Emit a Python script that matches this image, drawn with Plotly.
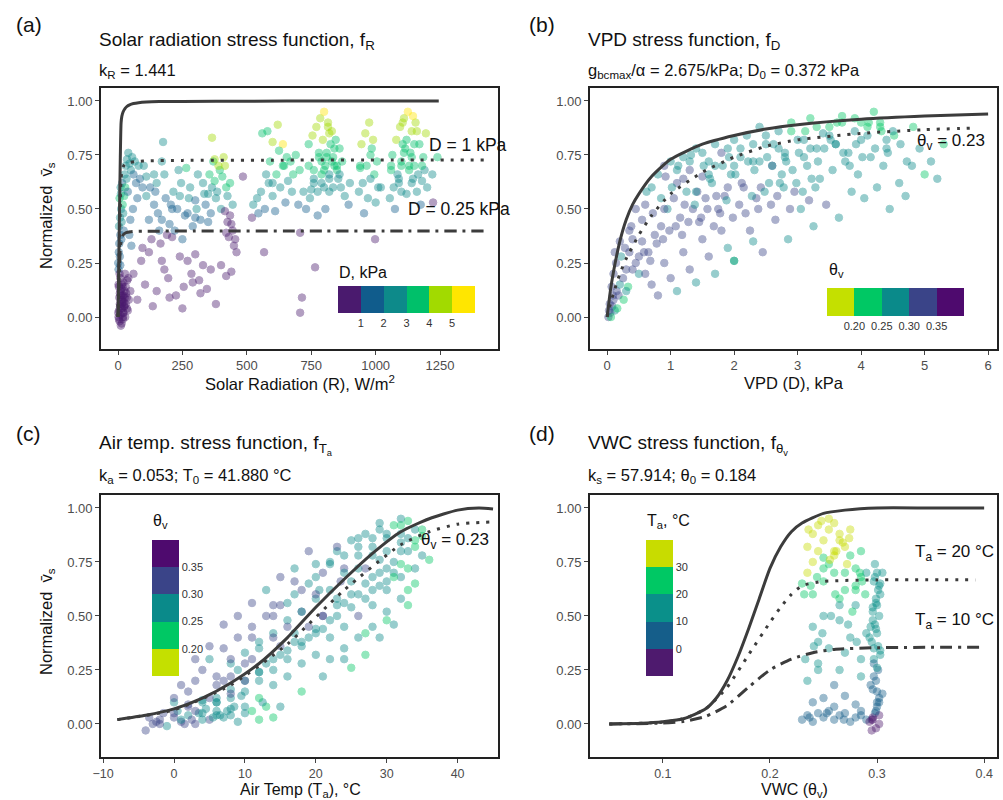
import plotly.graph_objects as go

# ---------------- DATA ----------------
# Panel (a): solar radiation R (W/m2), normalized vs, colour = D (kPa)
a_R = [2,4,6,8,10,12,14,16,18,20,22,25,28,30,34,38,3,7,11,15,19,24,9,13,17,5,21,27,32,36,42,48,
       1,3,5,7,9,4,8,12,6,10,14,18,2,11,16,20,24,13,26,30,22,28,35,40,33,45,50,38,55,60,65,70,75,80,58,48,85,95,44,52,
       60,75,90,105,120,135,150,165,180,195,210,225,240,255,270,285,300,315,330,345,360,380,400,420,440,130,95,250,200,170,290,320,
       100,110,125,140,155,170,185,200,215,230,245,260,275,290,305,320,335,350,120,160,190,220,250,280,310,340,175,265,300,235,145,205,
       355,365,375,385,395,405,415,425,435,445,370,390,410,380,400,360,420,365,375,350,
       415,425,435,445,455,420,440,450,430,460,
       485,520,567,707,714,765,707,998,1223,
       525,540,555,570,585,600,615,630,645,660,675,690,705,560,580,600,620,640,655,670,545,590,625,650,610,575,
       730,745,760,775,790,805,820,835,850,865,880,895,740,755,770,785,800,815,830,845,860,790,810,825,775,840,760,800,780,820,855,870,750,805,
       935,950,965,980,995,1010,945,960,975,990,1005,970,955,985,1000,940,
       1055,1070,1085,1100,1115,1130,1145,1160,1175,1190,1065,1080,1095,1110,1125,1140,1155,1170,1185,1090,1120,1150,1180,1105,1135,1165,1075,1195,1060,1200,
       1,4,7,10,13,16,19,22,25,2,6,9,12,15,18,21,26,30,35,40,
       790,800,810,820,830,840,850,795,815,835,1090,1100,1110,1120,1130,1140,1150,1160,1105,1145,
       600,640,680,720,760,700,740,780,820,860,900,940,980,1020,1060,1100,1140,1180,1220,1240,150,180,210,240,270,300,330,110,140,170]
a_y = [0.00,0.03,-0.02,0.05,0.01,0.08,-0.03,0.04,0.10,0.02,0.07,0.12,0.00,0.06,0.09,0.03,0.14,0.11,-0.04,0.15,-0.01,0.05,0.18,0.13,0.07,0.09,0.16,0.20,0.11,0.17,0.08,0.12,
       0.25,0.30,0.34,0.28,0.38,0.42,0.46,0.50,0.55,0.60,0.44,0.52,0.22,0.57,0.62,0.48,0.56,0.36,0.66,0.70,0.40,0.60,0.73,0.76,0.64,0.71,0.68,0.58,0.74,0.66,0.72,0.62,0.55,0.70,0.50,0.45,0.64,0.60,0.38,0.33,
       0.20,0.08,0.26,0.15,0.30,0.05,0.12,0.34,0.22,0.18,0.37,0.10,0.28,0.14,0.26,0.20,0.29,0.17,0.24,0.13,0.22,0.06,0.24,0.19,0.21,0.36,0.32,0.04,0.09,0.26,0.16,0.11,
       0.70,0.65,0.60,0.52,0.48,0.45,0.55,0.43,0.58,0.50,0.62,0.47,0.55,0.42,0.50,0.45,0.57,0.44,0.45,0.40,0.38,0.40,0.36,0.60,0.66,0.52,0.81,0.69,0.46,0.68,0.58,0.52,
       0.66,0.60,0.63,0.58,0.68,0.65,0.70,0.56,0.62,0.52,0.72,0.70,0.74,0.55,0.50,0.48,0.60,0.83,0.73,0.57,
       0.49,0.44,0.47,0.40,0.36,0.39,0.43,0.33,0.37,0.30,
       0.65,0.46,0.30,0.02,0.09,0.23,0.39,0.36,0.53,
       0.52,0.55,0.58,0.50,0.62,0.56,0.66,0.60,0.70,0.63,0.58,0.75,0.68,0.85,0.86,0.81,0.89,0.80,0.74,0.72,0.48,0.72,0.77,0.53,0.49,0.66,
       0.50,0.55,0.62,0.58,0.66,0.70,0.64,0.74,0.68,0.60,0.56,0.52,0.80,0.84,0.88,0.92,0.95,0.90,0.86,0.82,0.78,0.72,0.76,0.80,0.47,0.70,0.68,0.60,0.74,0.85,0.64,0.72,0.59,0.50,
       0.58,0.62,0.70,0.75,0.66,0.60,0.80,0.85,0.90,0.82,0.72,0.55,0.48,0.78,0.53,0.69,
       0.55,0.60,0.66,0.72,0.78,0.70,0.64,0.58,0.52,0.68,0.75,0.82,0.88,0.92,0.95,0.86,0.90,0.80,0.74,0.62,0.57,0.70,0.63,0.80,0.76,0.66,0.50,0.85,0.70,0.60,
       0.02,-0.01,0.06,0.12,0.04,0.08,0.00,0.10,0.05,0.15,0.20,0.24,0.10,0.06,0.14,0.02,0.09,0.14,0.04,0.18,
       0.62,0.68,0.74,0.66,0.72,0.78,0.70,0.82,0.88,0.60,0.64,0.70,0.76,0.82,0.68,0.74,0.80,0.86,0.90,0.93,
       0.62,0.70,0.66,0.58,0.64,0.52,0.70,0.76,0.58,0.66,0.62,0.70,0.64,0.60,0.68,0.58,0.62,0.70,0.66,0.74,0.62,0.66,0.50,0.56,0.48,0.54,0.62,0.56,0.66,0.72]
a_D = [0.3,0.4,0.2,0.5,0.3,0.6,0.2,0.5,0.7,0.4,0.5,0.7,0.3,0.6,0.7,0.5,0.8,0.6,0.2,0.8,0.3,0.5,0.9,0.7,0.6,0.6,0.8,0.9,0.7,0.9,0.6,0.8,
       1.2,1.4,1.6,1.3,1.8,2.2,2.6,2.8,3.2,2.4,2.7,3.1,1.1,2.9,1.9,2.3,3.0,1.5,2.1,2.4,1.7,3.3,2.2,2.7,2.5,2.3,2.0,1.8,2.6,1.9,2.1,1.6,1.5,2.2,1.7,1.4,1.9,1.6,1.3,1.2,
       0.8,0.5,0.9,0.7,0.9,0.5,0.6,0.9,0.8,0.7,0.95,0.6,0.9,0.7,0.8,0.8,0.9,0.7,0.8,0.7,0.8,0.5,0.8,0.7,0.8,0.9,0.9,0.5,0.6,0.8,0.7,0.6,
       2.4,2.2,1.8,1.5,1.3,1.2,1.9,1.4,2.1,1.6,2.3,1.5,2.6,1.2,2.0,1.4,2.5,1.3,1.0,1.1,0.95,1.1,1.0,2.2,2.4,1.8,2.8,3.5,1.5,2.6,1.7,1.9,
       3.2,2.9,3.4,2.7,3.6,3.3,4.1,2.5,3.0,2.2,3.8,4.2,4.3,2.8,2.4,1.9,3.1,4.0,4.1,2.6,
       0.9,0.8,0.9,0.7,0.8,0.9,0.6,0.8,0.7,0.7,
       0.9,0.8,0.8,0.6,0.7,0.8,0.8,0.8,0.9,
       2.2,2.4,2.1,1.8,2.6,2.3,3.0,2.5,3.3,2.8,2.4,3.5,3.1,3.8,3.9,4.5,4.7,5.2,3.4,3.2,1.6,3.0,3.6,1.9,1.5,2.7,
       1.8,2.0,2.6,2.3,3.0,3.3,2.8,3.5,3.1,2.4,2.0,1.7,3.8,4.2,4.6,4.9,5.3,4.4,4.0,3.7,3.5,3.2,3.6,3.9,1.5,3.4,3.1,2.7,3.3,4.1,2.6,3.0,2.2,1.9,
       2.5,2.8,3.4,3.7,3.0,2.6,4.0,4.3,4.8,4.1,3.3,2.2,1.7,3.9,2.0,3.1,
       2.0,2.4,2.9,3.3,3.8,3.1,2.6,2.2,1.8,2.9,3.5,4.0,4.5,4.9,5.2,4.2,4.6,3.9,3.4,2.5,2.1,3.0,2.4,3.7,3.3,2.8,1.6,4.3,3.0,2.2,
       0.3,0.3,0.5,0.6,0.4,0.6,0.3,0.7,0.5,0.8,0.9,1.1,0.6,0.5,0.8,0.4,0.6,0.8,0.5,0.9,
       2.8,3.1,3.6,2.9,3.3,3.8,3.2,4.2,4.8,2.6,2.7,3.1,3.4,3.9,3.0,3.5,3.8,4.4,4.7,5.3,
       2.9,3.3,3.0,2.4,2.9,1.9,3.3,3.7,2.3,2.8,2.5,3.2,2.7,2.4,3.0,2.2,2.5,3.1,2.8,3.5,2.4,2.6,1.7,2.0,1.6,1.9,2.5,2.1,2.6,2.9]

# Panel (b): VPD D (kPa), normalized vs, colour = theta_v
b_D = [0.02,0.05,0.08,0.1,0.12,0.15,0.18,0.2,0.25,0.3,0.04,0.07,0.1,0.14,0.22,0.28,0.35,0.4,0.06,0.16,0.03,0.09,0.12,0.26,0.33,0.45,0.5,0.38,0.2,0.3,
       0.55,0.6,0.7,0.8,0.9,1.0,1.1,1.2,1.3,1.4,1.5,1.6,1.7,1.8,1.9,2.0,0.65,0.75,0.85,0.95,1.05,1.15,1.25,1.35,1.45,1.55,1.65,1.75,1.85,1.95,0.6,0.9,1.2,1.5,1.8,0.7,1.0,1.3,1.6,1.9,0.8,1.1,1.4,1.7,2.0,
       2.1,2.2,2.3,2.4,2.5,2.6,2.7,2.8,2.9,3.0,3.1,3.2,3.3,3.4,3.5,3.6,3.7,3.8,3.9,4.0,4.1,4.2,4.3,4.4,2.15,2.35,2.55,2.75,2.95,3.15,3.35,3.55,3.75,3.95,4.15,4.35,2.25,2.65,3.05,3.45,3.85,4.25,2.45,2.85,3.25,3.65,4.05,4.45,4.6,4.8,4.7,5.0,2.0,2.3,
       0.35,0.45,0.55,0.62,0.72,0.85,0.92,1.02,1.12,1.22,1.32,1.42,1.52,1.62,1.72,1.82,1.92,2.02,2.12,2.22,2.32,2.42,2.52,2.62,2.72,2.82,2.92,3.02,3.12,3.22,3.32,3.42,3.52,3.62,3.72,3.82,3.92,4.02,4.12,4.22,4.32,4.42,4.52,4.62,4.72,4.82,4.92,5.1,5.2,5.3,
       0.4,0.5,0.58,0.68,0.78,0.88,0.98,1.08,1.18,1.28,1.38,1.48,1.58,1.68,1.78,1.88,1.98,2.08,2.18,2.28,2.38,2.48,2.58,2.68,2.78,2.88,2.98,3.08,3.18,3.28,
       1.1,1.3,1.5,1.7,1.9,2.1,2.3,2.5,2.7,2.9,3.1,3.3,3.5,3.7,3.9,4.1,4.3,4.5,1.2,1.6,2.0,2.4,2.8,3.2,3.6,4.0,4.4,0.9,1.4,2.6]
b_y = [0.0,0.02,0.05,0.08,0.03,0.12,0.1,0.15,0.18,0.22,0.06,0.14,0.2,0.25,0.28,0.32,0.3,0.36,0.0,0.04,0.03,0.1,0.3,0.08,0.14,0.25,0.2,0.42,0.35,0.12,
       0.45,0.52,0.6,0.66,0.7,0.72,0.62,0.74,0.68,0.78,0.65,0.72,0.8,0.76,0.6,0.82,0.3,0.38,0.42,0.5,0.55,0.46,0.58,0.5,0.44,0.55,0.62,0.5,0.56,0.66,0.2,0.25,0.3,0.36,0.4,0.15,0.18,0.22,0.28,0.32,0.1,0.12,0.16,0.2,0.26,
       0.78,0.84,0.72,0.88,0.8,0.7,0.86,0.76,0.9,0.82,0.74,0.92,0.78,0.85,0.88,0.8,0.93,0.76,0.86,0.9,0.84,0.95,0.88,0.82,0.6,0.55,0.62,0.66,0.58,0.7,0.64,0.68,0.72,0.66,0.74,0.7,0.4,0.45,0.5,0.52,0.58,0.6,0.3,0.36,0.42,0.46,0.55,0.5,0.62,0.7,0.56,0.66,0.26,0.35,
       0.4,0.5,0.35,0.58,0.48,0.55,0.65,0.6,0.7,0.52,0.75,0.58,0.7,0.64,0.56,0.7,0.74,0.66,0.62,0.72,0.68,0.6,0.74,0.8,0.62,0.72,0.68,0.76,0.86,0.64,0.72,0.78,0.82,0.9,0.76,0.7,0.8,0.74,0.9,0.78,0.86,0.76,0.84,0.8,0.72,0.88,0.78,0.72,0.64,0.8,
       0.22,0.28,0.3,0.26,0.34,0.36,0.4,0.42,0.38,0.44,0.52,0.46,0.5,0.42,0.48,0.54,0.46,0.52,0.48,0.56,0.5,0.58,0.52,0.56,0.6,0.5,0.62,0.58,0.54,0.6,
       0.68,0.72,0.76,0.7,0.78,0.74,0.8,0.84,0.78,0.86,0.82,0.88,0.84,0.9,0.92,0.88,0.9,0.86,0.64,0.66,0.7,0.72,0.74,0.78,0.8,0.82,0.78,0.5,0.58,0.7]
b_theta = [0.31,0.32,0.30,0.31,0.26,0.30,0.32,0.29,0.31,0.30,0.33,0.31,0.30,0.32,0.29,0.31,0.30,0.30,0.24,0.23,0.32,0.31,0.33,0.23,0.24,0.31,0.29,0.32,0.30,0.27,
           0.30,0.31,0.29,0.28,0.30,0.27,0.31,0.28,0.30,0.26,0.32,0.29,0.27,0.30,0.31,0.26,0.32,0.31,0.30,0.29,0.30,0.33,0.28,0.31,0.32,0.30,0.28,0.31,0.30,0.27,0.32,0.33,0.32,0.31,0.30,0.33,0.32,0.31,0.30,0.29,0.31,0.29,0.28,0.26,0.24,
           0.27,0.26,0.29,0.25,0.27,0.30,0.25,0.28,0.24,0.26,0.29,0.24,0.27,0.25,0.24,0.26,0.23,0.28,0.25,0.24,0.26,0.23,0.24,0.25,0.30,0.31,0.29,0.28,0.30,0.28,0.29,0.27,0.28,0.29,0.27,0.28,0.31,0.30,0.29,0.30,0.28,0.28,0.30,0.29,0.28,0.29,0.27,0.28,0.26,0.25,0.27,0.24,0.29,0.27,
           0.31,0.30,0.32,0.29,0.31,0.28,0.30,0.29,0.27,0.31,0.28,0.30,0.28,0.29,0.31,0.27,0.28,0.29,0.30,0.27,0.28,0.30,0.27,0.25,0.29,0.27,0.28,0.26,0.24,0.29,0.28,0.26,0.25,0.23,0.26,0.28,0.25,0.27,0.23,0.26,0.24,0.26,0.24,0.25,0.27,0.24,0.25,0.26,0.27,0.24,
           0.32,0.32,0.31,0.32,0.31,0.31,0.30,0.30,0.31,0.30,0.29,0.31,0.30,0.31,0.30,0.29,0.31,0.30,0.31,0.29,0.30,0.29,0.30,0.30,0.28,0.31,0.29,0.29,0.30,0.29,
           0.28,0.29,0.27,0.28,0.26,0.27,0.26,0.25,0.27,0.24,0.26,0.24,0.25,0.23,0.23,0.24,0.24,0.25,0.30,0.29,0.28,0.28,0.27,0.27,0.26,0.25,0.26,0.30,0.29,0.28]

# Panel (c): air temperature Ta (°C), normalized vs, colour = theta_v
c_T = [-4,-3,-2,-1,0,1,2,3,4,5,6,7,8,9,10,-3.5,-1.5,0.5,2.5,4.5,6.5,8.5,1.5,3.5,5.5,7.5,-2.5,0,2,4,6,8,11,12,13,14,9.5,12.5,
       0,1,2,3,4,5,6,7,8,9,10,11,12,13,14,15,16,17,18,19,20,3,5,7,9,11,13,15,17,19,6,8,10,12,14,16,18,20,10,12,14,16,18,20,
       21,22,23,24,25,26,27,28,29,30,31,32,33,34,35,21,23,25,27,29,31,33,35,22,24,26,28,30,32,34,36,22,24,26,28,30,32,34,25,27,29,31,33,28,30,32,20.5,23.5,
       -2,0,2,4,6,8,10,12,14,16,18,20,22,24,26,28,30,32,34,
       1,3,5,7,9,11,13,15,17,19,21,23,25,27,29,31,33,35,
       4,6,8,10,12,14,16,18,20,22,24,26,28,30,32,34,
       8,11,14,17,20,23,26,29,32,15,18,21,24,27,30,33,
       14,16,18,20,22,24,26,28,30,32,15,17,19,21,23,25,27,29,31,33,12,10,8,6]
c_y = [-0.03,0.0,0.02,-0.01,0.03,0.01,0.04,0.0,0.05,0.02,0.06,0.03,0.04,0.01,0.05,0.03,0.05,0.06,0.02,0.07,0.04,0.08,0.0,0.05,0.03,0.06,0.01,0.1,0.09,0.11,0.1,0.12,0.06,0.02,0.08,0.03,0.13,0.1,
       0.12,0.18,0.15,0.2,0.25,0.3,0.22,0.35,0.28,0.4,0.33,0.45,0.38,0.5,0.42,0.55,0.48,0.6,0.52,0.65,0.58,0.3,0.36,0.46,0.5,0.56,0.62,0.68,0.72,0.8,0.12,0.16,0.2,0.24,0.3,0.34,0.38,0.44,0.08,0.12,0.18,0.22,0.28,0.32,
       0.7,0.75,0.8,0.72,0.85,0.78,0.88,0.82,0.9,0.86,0.92,0.88,0.94,0.9,0.87,0.5,0.55,0.6,0.65,0.7,0.75,0.8,0.78,0.4,0.45,0.5,0.55,0.62,0.68,0.72,0.76,0.3,0.35,0.4,0.45,0.52,0.58,0.65,0.26,0.32,0.4,0.46,0.55,0.68,0.72,0.8,0.62,0.66,
       0.0,0.05,0.08,0.1,0.18,0.22,0.28,0.35,0.4,0.45,0.52,0.6,0.62,0.7,0.72,0.78,0.8,0.84,0.82,
       0.02,0.06,0.12,0.2,0.25,0.3,0.28,0.36,0.42,0.45,0.5,0.58,0.66,0.72,0.76,0.7,0.86,0.9,
       0.02,0.04,0.07,0.15,0.2,0.25,0.3,0.36,0.42,0.48,0.56,0.6,0.62,0.66,0.74,0.85,
       0.3,0.4,0.55,0.66,0.74,0.82,0.86,0.93,0.95,0.08,0.15,0.22,0.3,0.42,0.48,0.62,
       0.5,0.56,0.62,0.68,0.74,0.78,0.82,0.86,0.88,0.92,0.32,0.38,0.4,0.44,0.5,0.54,0.58,0.64,0.68,0.72,0.24,0.2,0.14,0.1]
c_theta = [0.30,0.31,0.30,0.29,0.30,0.31,0.29,0.30,0.28,0.30,0.27,0.29,0.26,0.28,0.25,0.31,0.30,0.29,0.30,0.28,0.27,0.25,0.31,0.29,0.28,0.26,0.30,0.29,0.30,0.28,0.27,0.26,0.24,0.23,0.24,0.23,0.25,0.26,
           0.31,0.30,0.30,0.31,0.30,0.29,0.31,0.30,0.29,0.30,0.29,0.30,0.28,0.30,0.29,0.30,0.28,0.29,0.30,0.29,0.28,0.31,0.30,0.30,0.31,0.30,0.29,0.30,0.29,0.30,0.29,0.28,0.27,0.28,0.26,0.27,0.28,0.26,0.25,0.24,0.26,0.25,0.27,0.26,
           0.30,0.29,0.28,0.30,0.27,0.29,0.26,0.28,0.25,0.27,0.24,0.26,0.23,0.25,0.24,0.30,0.29,0.28,0.29,0.28,0.27,0.26,0.25,0.29,0.28,0.30,0.28,0.27,0.26,0.25,0.24,0.27,0.26,0.25,0.27,0.26,0.25,0.24,0.24,0.23,0.26,0.25,0.23,0.28,0.27,0.25,0.29,0.30,
           0.30,0.31,0.30,0.29,0.30,0.31,0.30,0.29,0.30,0.31,0.29,0.30,0.28,0.29,0.27,0.28,0.26,0.25,0.24,
           0.29,0.30,0.31,0.30,0.29,0.30,0.28,0.30,0.29,0.31,0.30,0.29,0.28,0.30,0.27,0.26,0.25,0.23,
           0.28,0.27,0.26,0.29,0.28,0.27,0.26,0.28,0.27,0.26,0.28,0.27,0.26,0.25,0.24,0.23,
           0.31,0.30,0.31,0.30,0.29,0.30,0.28,0.27,0.26,0.25,0.24,0.26,0.25,0.24,0.24,0.23,
           0.30,0.29,0.30,0.28,0.29,0.27,0.28,0.26,0.25,0.24,0.28,0.27,0.28,0.27,0.26,0.27,0.26,0.25,0.24,0.23,0.29,0.30,0.30,0.29]

# Panel (d): VWC theta_v, normalized vs, colour = Ta (°C)
d_theta = [0.295,0.298,0.3,0.302,0.296,0.299,0.301,0.297,0.303,0.295,0.3,0.298,0.302,0.296,0.299,0.301,0.297,0.3,0.298,0.302,0.295,0.3,0.297,0.301,0.299,0.296,0.303,0.298,0.3,0.302,
           0.23,0.235,0.24,0.245,0.25,0.255,0.26,0.265,0.27,0.275,0.28,0.285,0.29,0.24,0.25,0.26,0.27,0.28,
           0.235,0.245,0.255,0.265,0.275,0.285,0.24,0.25,0.26,0.27,0.28,0.29,0.245,0.265,0.285,
           0.23,0.235,0.24,0.245,0.25,0.255,0.26,0.265,0.27,0.275,0.28,0.285,0.24,0.25,0.26,0.27,0.245,0.255,0.265,0.275,0.235,0.25,0.26,0.27,0.28,0.24,0.255,0.265,0.29,0.285,
           0.293,0.296,0.299,0.302,0.305,0.294,0.297,0.3,0.303,0.293,0.296,0.299,0.302,0.305,0.294,0.297,0.3,0.303,0.296,0.299,
           0.232,0.238,0.244,0.25,0.256,0.262,0.268,0.274,0.28,0.286,0.236,0.248,0.26,0.272,0.284,
           0.233,0.241,0.249,0.257,0.265,0.273,0.281,0.289,0.237,0.253,0.269,0.285,0.245,0.261,0.277]
d_y = [0.02,0.05,0.08,0.12,0.16,0.2,0.25,0.3,0.34,0.38,0.42,0.46,0.5,0.54,0.58,0.62,0.66,0.7,0.74,0.0,-0.03,0.1,0.28,0.36,0.44,0.52,0.6,0.68,0.15,0.04,
       0.02,0.04,0.01,0.05,0.03,0.06,0.02,0.04,0.05,0.01,0.03,0.04,0.02,0.1,0.12,0.08,0.13,0.09,
       0.2,0.28,0.35,0.25,0.4,0.3,0.45,0.5,0.18,0.33,0.55,0.42,0.38,0.48,0.22,
       0.65,0.7,0.75,0.8,0.85,0.9,0.93,0.88,0.82,0.78,0.72,0.68,0.6,0.66,0.7,0.62,0.92,0.95,0.85,0.9,0.82,0.77,0.8,0.7,0.64,0.88,0.74,0.58,0.7,0.8,
       0.01,0.03,0.06,0.1,0.14,0.18,0.22,0.26,0.32,0.4,0.48,0.56,0.64,0.7,0.45,0.35,0.55,0.65,0.02,-0.02,
       0.6,0.64,0.68,0.72,0.76,0.8,0.84,0.86,0.62,0.66,0.9,0.94,0.78,0.74,0.7,
       0.3,0.36,0.42,0.5,0.55,0.46,0.38,0.6,0.03,0.05,0.02,0.06,0.25,0.6,0.52]
d_T = [-2,0,3,5,6,8,9,10,11,12,14,13,15,12,14,16,15,17,16,-3,-4,4,9,11,13,15,14,16,6,-1,
       2,4,3,5,6,4,7,5,3,6,4,2,1,6,8,7,9,5,
       10,12,14,11,15,13,17,18,9,13,19,15,14,17,11,
       28,30,31,32,33,34,35,32,30,28,26,24,25,27,29,23,33,34,31,30,31,29,30,27,25,32,28,22,18,26,
       -3,-1,1,4,6,8,9,10,11,13,14,15,16,17,13,12,15,16,-2,-4,
       24,26,27,29,30,32,33,34,25,27,33,35,31,30,28,
       14,15,16,18,19,17,15,20,3,5,4,6,12,23,21]

# Fitted stress-function curves
a_solid_R = [0,3,6,9,12,15,20,27,35,45,60,80,110,160,250,500,800,1245]
a_solid_y = [0,0.25,0.5,0.74,0.9,0.93,0.95,0.965,0.975,0.982,0.988,0.992,0.995,0.997,0.998,0.999,1.0,1.0]
a_d1_R = [0,3,6,9,12,16,22,30,45,70,120,250,600,1000,1435]
a_d1_y = [0,0.18,0.36,0.53,0.64,0.68,0.70,0.71,0.715,0.72,0.723,0.725,0.726,0.727,0.727]
a_d025_R = [0,3,6,9,14,20,30,50,100,300,800,1435]
a_d025_y = [0,0.12,0.24,0.32,0.36,0.38,0.39,0.395,0.397,0.398,0.398,0.398]

b_solid_D = [0,0.05,0.1,0.2,0.3,0.4,0.5,0.7,1.0,1.5,2,2.5,3,4,5,6]
b_solid_y = [0,0.12,0.21,0.35,0.45,0.52,0.57,0.65,0.73,0.80,0.84,0.87,0.89,0.915,0.93,0.94]
b_dot_D = [0,0.05,0.1,0.2,0.3,0.5,0.7,1.0,1.5,2,2.5,3,4,5,5.8]
b_dot_y = [0,0.06,0.11,0.2,0.27,0.38,0.47,0.57,0.67,0.74,0.79,0.82,0.85,0.867,0.875]

c_solid_T = [-8,-4,0,4,8,12,16,20,24,28,32,36,40,43,45]
c_solid_y = [0.02,0.04,0.07,0.12,0.19,0.28,0.40,0.54,0.67,0.79,0.89,0.95,0.99,1.0,0.995]
c_dot_T = [-8,0,8,16,24,32,36,40,44.6]
c_dot_y = [0.02,0.065,0.18,0.37,0.62,0.83,0.89,0.925,0.935]

d_solid_th = [0.05,0.08,0.10,0.12,0.14,0.15,0.16,0.17,0.18,0.19,0.20,0.21,0.22,0.23,0.25,0.27,0.30,0.35,0.40]
d_solid_y = [0.0,0.003,0.01,0.025,0.07,0.12,0.2,0.31,0.44,0.58,0.72,0.82,0.89,0.93,0.975,0.99,1.0,1.0,1.0]
d_t20_th = [0.05,0.10,0.12,0.14,0.16,0.18,0.20,0.21,0.22,0.23,0.25,0.30,0.392]
d_t20_y = [0,0.008,0.025,0.07,0.17,0.32,0.47,0.54,0.6,0.64,0.66,0.667,0.667]
d_t10_th = [0.05,0.10,0.12,0.14,0.16,0.18,0.20,0.22,0.24,0.26,0.30,0.40]
d_t10_y = [0,0.004,0.012,0.035,0.085,0.17,0.25,0.30,0.33,0.345,0.353,0.355]

# Legend bins
D_colors = ["#4a1a6e", "#105c8c", "#0d8a8a", "#00c06a", "#a2da00", "#ffe600"]
D_ticks = [1, 2, 3, 4, 5]
theta_colors = ["#c4e000", "#00c864", "#0a8a8a", "#3a4488", "#4e0a6e"]
theta_ticks = [0.20, 0.25, 0.30, 0.35]
T_colors = ["#4e1a6e", "#155e8a", "#0a908a", "#00c864", "#c8dc00"]
T_ticks = [0, 10, 20, 30]

# ---------------- FIGURE ----------------
W, H = 1003, 800
FONT = "Liberation Sans, Arial, sans-serif"
LINE_C = "#3c3c3c"


def px(x):
    return x / W


def py(y):
    return 1 - y / H


def stepscale(colors):
    n = len(colors)
    cs = []
    for i, c in enumerate(colors):
        cs.append([i / n, c])
        cs.append([(i + 1) / n, c])
    return cs


fig = go.Figure()


def add_points(x, y, c, xa, ya, cax):
    fig.add_trace(go.Scatter(
        x=x, y=y, mode="markers", xaxis=xa, yaxis=ya, showlegend=False, hoverinfo="skip",
        marker=dict(size=7.5, color=c, coloraxis=cax, opacity=0.42,
                    line=dict(width=1, color=c, coloraxis=cax))))


def add_line(x, y, xa, ya, dash):
    fig.add_trace(go.Scatter(
        x=x, y=y, mode="lines", xaxis=xa, yaxis=ya, showlegend=False, hoverinfo="skip",
        line=dict(color=LINE_C, width=3, dash=dash, shape="spline", smoothing=0.6)))


DOT = "3px,7px"
DASHDOT = "12px,6px,3px,6px"

add_points(a_R, a_y, a_D, "x", "y", "coloraxis")
add_line(a_solid_R, a_solid_y, "x", "y", "solid")
add_line(a_d1_R, a_d1_y, "x", "y", DOT)
add_line(a_d025_R, a_d025_y, "x", "y", DASHDOT)

add_points(b_D, b_y, b_theta, "x2", "y2", "coloraxis2")
add_line(b_solid_D, b_solid_y, "x2", "y2", "solid")
add_line(b_dot_D, b_dot_y, "x2", "y2", DOT)

add_points(c_T, c_y, c_theta, "x3", "y3", "coloraxis3")
add_line(c_solid_T, c_solid_y, "x3", "y3", "solid")
add_line(c_dot_T, c_dot_y, "x3", "y3", DOT)

add_points(d_theta, d_y, d_T, "x4", "y4", "coloraxis4")
add_line(d_solid_th, d_solid_y, "x4", "y4", "solid")
add_line(d_t20_th, d_t20_y, "x4", "y4", DOT)
add_line(d_t10_th, d_t10_y, "x4", "y4", DASHDOT)


def axis_style(size=13):
    return dict(showline=True, mirror=True, linecolor="#222222", linewidth=1.6,
                ticks="outside", ticklen=4, tickwidth=1, tickcolor="#444444",
                tickfont=dict(size=size, color="#4d4d4d", family=FONT),
                showgrid=False, zeroline=False, automargin=False)


yt = [0, 0.25, 0.5, 0.75, 1.0]
ytt = ["0.00", "0.25", "0.50", "0.75", "1.00"]

xa_dom = [px(101), px(498)]
xb_dom = [px(590), px(997)]
ytop_dom = [py(349), py(88)]
ybot_dom = [py(757), py(495)]

fig.update_layout(
    width=W, height=H, margin=dict(l=0, r=0, t=0, b=0, autoexpand=False),
    paper_bgcolor="white", plot_bgcolor="white",
    font=dict(family=FONT, color="#111111"),
    xaxis=dict(domain=xa_dom, anchor="y", range=[-66, 1475], tickvals=[0, 250, 500, 750, 1000, 1250], **axis_style()),
    yaxis=dict(domain=ytop_dom, anchor="x", range=[-0.148, 1.06], tickvals=yt, ticktext=ytt, **axis_style()),
    xaxis2=dict(domain=xb_dom, anchor="y2", range=[-0.27, 6.14], tickvals=[0, 1, 2, 3, 4, 5, 6], **axis_style()),
    yaxis2=dict(domain=ytop_dom, anchor="x2", range=[-0.148, 1.06], tickvals=yt, ticktext=ytt, **axis_style()),
    xaxis3=dict(domain=xa_dom, anchor="y3", range=[-10.3, 45.7], tickvals=[-10, 0, 10, 20, 30, 40], **axis_style(12.5)),
    yaxis3=dict(domain=ybot_dom, anchor="x3", range=[-0.153, 1.06], tickvals=yt, ticktext=ytt, **axis_style()),
    xaxis4=dict(domain=xb_dom, anchor="y4", range=[0.032, 0.412], tickvals=[0.1, 0.2, 0.3, 0.4], **axis_style(12.5)),
    yaxis4=dict(domain=ybot_dom, anchor="x4", range=[-0.153, 1.06], tickvals=yt, ticktext=ytt, **axis_style()),
)

cb_common = dict(outlinewidth=0, ticks="", lenmode="pixels", thicknessmode="pixels",
                 xpad=0, ypad=0, tickfont=dict(size=11, color="#333333", family=FONT))

fig.update_layout(
    coloraxis=dict(colorscale=stepscale(D_colors), cmin=0, cmax=6,
                   colorbar=dict(orientation="h", x=px(406.5), xanchor="center", y=py(286), yanchor="top",
                                 len=137, thickness=27, tickvals=D_ticks,
                                 ticktext=[str(t) for t in D_ticks], **cb_common)),
    coloraxis2=dict(colorscale=stepscale(theta_colors), cmin=0.15, cmax=0.40,
                    colorbar=dict(orientation="h", x=px(895.5), xanchor="center", y=py(288), yanchor="top",
                                  len=137, thickness=28, tickvals=theta_ticks,
                                  ticktext=["%.2f" % t for t in theta_ticks], **cb_common)),
    coloraxis3=dict(colorscale=stepscale(theta_colors), cmin=0.15, cmax=0.40,
                    colorbar=dict(orientation="v", x=px(152), xanchor="left", y=py(608), yanchor="middle",
                                  len=136, thickness=27, tickvals=theta_ticks,
                                  ticktext=["%.2f" % t for t in theta_ticks], **cb_common)),
    coloraxis4=dict(colorscale=stepscale(T_colors), cmin=-10, cmax=40,
                    colorbar=dict(orientation="v", x=px(646), xanchor="left", y=py(608), yanchor="middle",
                                  len=136, thickness=27, tickvals=T_ticks,
                                  ticktext=[str(t) for t in T_ticks], **cb_common)),
)

ann = []


def text(x, y, s, size, anchor="left", angle=0, color="#111111", ref="paper"):
    d = dict(text=s, showarrow=False, font=dict(size=size, color=color, family=FONT),
             xanchor=anchor, yanchor="middle", textangle=angle)
    if ref == "paper":
        d.update(x=px(x), y=py(y), xref="paper", yref="paper")
    else:
        d.update(x=x, y=y, xref=ref[0], yref=ref[1])
    ann.append(d)


# panel letters
text(14, 24, "(a)", 21)
text(527, 24, "(b)", 21)
text(14, 433, "(c)", 21)
text(527, 433, "(d)", 21)
# titles & subtitles
text(97, 41, "Solar radiation stress function, f<sub>R</sub>", 19)
text(97, 71, "k<sub>R</sub> = 1.441", 16.5)
text(586, 41, "VPD stress function, f<sub>D</sub>", 19)
text(586, 71, "g<sub>bcmax</sub>/α = 2.675/kPa; D<sub>0</sub> = 0.372 kPa", 16.5)
text(97, 445, "Air temp. stress function, f<sub>T<sub>a</sub></sub>", 19)
text(97, 476, "k<sub>a</sub> = 0.053; T<sub>0</sub> = 41.880 °C", 16.5)
text(586, 445, "VWC stress function, f<sub>θ<sub>v</sub></sub>", 19)
text(586, 476, "k<sub>s</sub> = 57.914; θ<sub>0</sub> = 0.184", 16.5)
# axis titles
text(300, 383, "Solar Radiation (R), W/m<sup>2</sup>", 16.5, anchor="center")
text(794, 383, "VPD (D), kPa", 16.5, anchor="center")
text(300, 790, "Air Temp (T<sub>a</sub>), °C", 16, anchor="center")
text(794, 790, "VWC (θ<sub>v</sub>)", 16, anchor="center")
text(47, 216, "Normalized  v\u0304<sub>s</sub>", 16.5, anchor="center", angle=-90)
text(47, 622, "Normalized  v\u0304<sub>s</sub>", 16.5, anchor="center", angle=-90)
# legend titles
text(337, 272, "D, kPa", 16)
text(827, 270, "θ<sub>v</sub>", 16)
text(151, 521, "θ<sub>v</sub>", 16)
text(645, 521, "T<sub>a</sub>, °C", 16)
# curve labels
text(1360, 0.797, "D = 1 kPa", 17.5, anchor="center", ref=("x", "y"))
text(1322, 0.50, "D = 0.25 kPa", 17.5, anchor="center", ref=("x", "y"))
text(5.42, 0.81, "θ<sub>v</sub> = 0.23", 17, anchor="center", ref=("x2", "y2"))
text(39.6, 0.845, "θ<sub>v</sub> = 0.23", 17, anchor="center", ref=("x3", "y3"))
text(0.372, 0.79, "T<sub>a</sub> = 20 °C", 17, anchor="center", ref=("x4", "y4"))
text(0.372, 0.475, "T<sub>a</sub> = 10 °C", 17, anchor="center", ref=("x4", "y4"))

fig.update_layout(annotations=ann)
fig.write_html("out.html", config={"displayModeBar": False},
               post_script="document.body.style.margin='0px';")
